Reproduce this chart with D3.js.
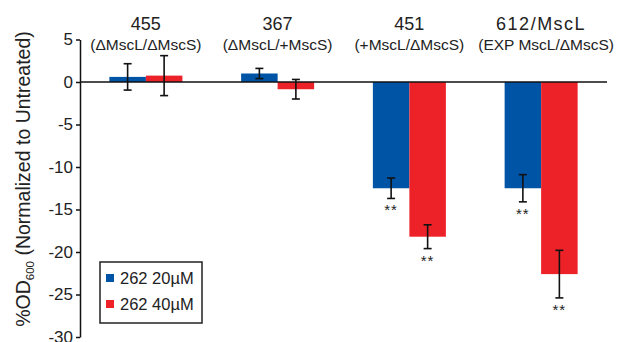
<!DOCTYPE html>
<html>
<head>
<meta charset="utf-8">
<script src="https://cdn.jsdelivr.net/npm/d3@7"></script>
<style>
  body { margin: 0; background: #fff; }
  text { font-family: "Liberation Sans", Arial, sans-serif; fill: #222; }
</style>
</head>
<body>
<svg id="chart" width="618" height="342"></svg>
<script>
// strains and their genotype subtitles
var strains = ["455", "367", "451", "612/MscL"];
var genotypes = ["(\u0394MscL/\u0394MscS)", "(\u0394MscL/+MscS)", "(+MscL/\u0394MscS)", "(EXP MscL/\u0394MscS)"];
var series = ["262 20\u00b5M", "262 40\u00b5M"];
var colors = ["#0054a6", "#ed2229"];

// mean % change, per series
var means20 = [0.6, 1.0, -12.5, -12.5];
var means40 = [0.75, -0.85, -18.2, -22.6];
// error bar half-lengths
var err20 = [1.55, 0.6, 1.2, 1.6];
var err40 = [2.35, 1.15, 1.4, 2.8];
// significance marks
var sig20 = ["", "", "**", "**"];
var sig40 = ["", "", "**", "**"];

var yTicks = [5, 0, -5, -10, -15, -20, -25, -30];

var svg = d3.select("#chart");

var x = d3.scaleBand().domain(strains).range([80, 607]).padding(0);
var y = d3.scaleLinear().domain([-30, 5]).range([337, 39.5]);
var barW = 36.5;

var data = [];
strains.forEach(function(s, i) {
  data.push({strain: s, k: 0, v: means20[i], e: err20[i], sig: sig20[i]});
  data.push({strain: s, k: 1, v: means40[i], e: err40[i], sig: sig40[i]});
});
function bx(d) { return x(d.strain) + x.bandwidth() / 2 - barW + d.k * barW; }

// bars
svg.selectAll(".bar")
    .data(data)
  .enter().append("rect")
    .attr("class", "bar")
    .attr("x", bx)
    .attr("width", barW)
    .attr("y", function(d) { return y(Math.max(0, d.v)); })
    .attr("height", function(d) { return Math.abs(y(d.v) - y(0)); })
    .attr("fill", function(d) { return colors[d.k]; });

// zero line
svg.append("line")
    .attr("x1", 80).attr("x2", 607)
    .attr("y1", y(0)).attr("y2", y(0))
    .attr("stroke", "#111").attr("stroke-width", 1.5);

// error bars
var eb = svg.selectAll(".err")
    .data(data)
  .enter().append("g")
    .attr("class", "err")
    .attr("stroke", "#111")
    .attr("stroke-width", 1.6);
eb.append("line")
    .attr("x1", function(d) { return bx(d) + barW / 2; })
    .attr("x2", function(d) { return bx(d) + barW / 2; })
    .attr("y1", function(d) { return y(d.v + d.e); })
    .attr("y2", function(d) { return y(d.v - d.e); });
[1, -1].forEach(function(sgn) {
  eb.append("line")
      .attr("x1", function(d) { return bx(d) + barW / 2 - 4; })
      .attr("x2", function(d) { return bx(d) + barW / 2 + 4; })
      .attr("y1", function(d) { return y(d.v + sgn * d.e); })
      .attr("y2", function(d) { return y(d.v + sgn * d.e); });
});

// stars
svg.selectAll(".sig")
    .data(data.filter(function(d) { return d.sig; }))
  .enter().append("text")
    .attr("class", "sig")
    .attr("x", function(d) { return bx(d) + barW / 2; })
    .attr("y", function(d) { return y(d.v - d.e) + 17; })
    .attr("text-anchor", "middle")
    .style("font-size", "15px")
    .style("letter-spacing", "1px")
    .text(function(d) { return d.sig; });

// y axis
var yAxis = svg.append("g")
    .attr("transform", "translate(80,0)")
    .call(d3.axisLeft(y).tickValues(yTicks).tickSize(4).tickSizeOuter(0)
      .tickFormat(function(d) { return String(d); }));
yAxis.select(".domain").attr("stroke", "#111").attr("stroke-width", 1.5);
yAxis.selectAll(".tick line").attr("stroke", "#111").attr("stroke-width", 1.5);
yAxis.selectAll(".tick text")
    .attr("x", -7)
    .style("font-size", "17px")
    .style("font-family", "'Liberation Sans', Arial, sans-serif")
    .attr("fill", "#222");

// y title
var yt = svg.append("text")
    .attr("transform", "translate(30,179) rotate(-90)")
    .attr("text-anchor", "middle")
    .style("font-size", "19.5px");
yt.append("tspan").text("%OD");
yt.append("tspan").attr("dy", 4).style("font-size", "11.5px").text("600");
yt.append("tspan").attr("dy", -4).text(" (Normalized to Untreated)");

// category titles
svg.selectAll(".strain")
    .data(strains)
  .enter().append("text")
    .attr("class", "strain")
    .attr("x", function(d) { return x(d) + x.bandwidth() / 2; })
    .attr("y", 30)
    .attr("text-anchor", "middle")
    .style("font-size", "18px")
    .style("letter-spacing", function(d, i) { return i === 3 ? "1.5px" : "0px"; })
    .text(function(d) { return d; });
svg.selectAll(".geno")
    .data(genotypes)
  .enter().append("text")
    .attr("class", "geno")
    .attr("x", function(d, i) { return x(strains[i]) + x.bandwidth() / 2 + (i === 3 ? 5 : 0); })
    .attr("y", 50)
    .attr("text-anchor", "middle")
    .style("font-size", "15.5px")
    .text(function(d) { return d; });

// legend
var lg = svg.append("g").attr("transform", "translate(100,262)");
lg.append("rect")
    .attr("width", 102).attr("height", 61)
    .attr("fill", "#fff").attr("stroke", "#222").attr("stroke-width", 1.5);
var li = lg.selectAll(".li")
    .data(series)
  .enter().append("g")
    .attr("class", "li")
    .attr("transform", function(d, i) { return "translate(6," + (16 + i * 26) + ")"; });
li.append("rect")
    .attr("y", -4).attr("width", 8).attr("height", 8)
    .attr("fill", function(d, i) { return colors[i]; });
li.append("text")
    .attr("x", 14).attr("y", 6)
    .style("font-size", "16.5px")
    .text(function(d) { return d; });
</script>
</body>
</html>
